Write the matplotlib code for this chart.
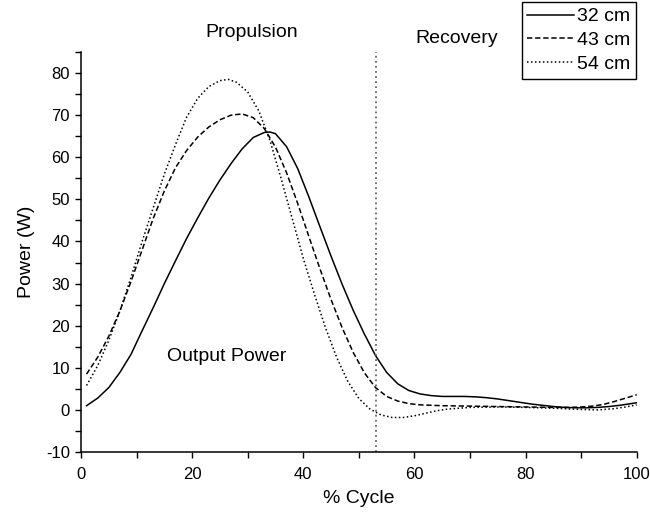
import matplotlib
matplotlib.use('Agg')
import matplotlib.pyplot as plt
from matplotlib.ticker import MultipleLocator

plt.rcParams['font.family'] = ['Liberation Sans', 'DejaVu Sans']
plt.rcParams['axes.unicode_minus'] = False

# power curves (% cycle, W)
x32 = [1, 3, 5, 7, 9, 11, 13, 15, 17, 19, 21, 23, 25, 27, 29, 31, 33, 34, 35, 37,
       39, 41, 43, 45, 47, 49, 51, 53, 55, 57, 59, 61, 63, 65, 67, 69, 71, 73, 75,
       77, 79, 81, 83, 85, 87, 89, 91, 93, 95, 97, 99, 100]
p32 = [1.0, 2.8, 5.3, 8.9, 13.2, 18.8, 24.3, 30.0, 35.4, 40.7, 45.6, 50.3, 54.6,
       58.5, 62.0, 64.7, 65.9, 66.0, 65.6, 62.5, 57.3, 50.6, 43.5, 36.5, 29.8,
       23.6, 18.0, 12.9, 8.9, 6.2, 4.6, 3.8, 3.4, 3.2, 3.2, 3.2, 3.1, 2.9, 2.6,
       2.2, 1.8, 1.4, 1.1, 0.8, 0.6, 0.5, 0.5, 0.6, 0.8, 1.1, 1.5, 1.7]

x43 = [1, 3, 5, 7, 9, 11, 13, 15, 17, 19, 21, 23, 25, 27, 29, 31, 33, 35, 37, 39,
       41, 43, 45, 47, 49, 51, 53, 55, 57, 59, 61, 65, 70, 75, 80, 85, 88, 90, 92,
       94, 96, 98, 100]
p43 = [8.5, 12.5, 17.5, 23.5, 30.5, 38.0, 45.5, 52.0, 57.5, 61.6, 64.8, 67.2,
       68.9, 70.0, 70.3, 69.4, 66.8, 62.4, 56.3, 49.0, 41.2, 33.5, 26.2, 19.5,
       13.6, 8.8, 5.3, 3.2, 2.1, 1.5, 1.2, 1.0, 0.9, 0.8, 0.7, 0.6, 0.6, 0.7, 0.9,
       1.3, 2.0, 2.8, 3.6]

x54 = [1, 3, 5, 7, 9, 11, 13, 15, 17, 19, 21, 23, 25, 26.5, 28, 30, 32, 34, 36,
       38, 40, 42, 44, 46, 48, 50, 52, 54, 56, 58, 60, 62, 64, 66, 70, 75, 80, 85,
       90, 93, 96, 98, 100]
p54 = [5.8, 10.5, 16.5, 23.5, 31.5, 40.0, 48.0, 56.0, 63.0, 69.5, 74.0, 76.8,
       78.2, 78.5, 77.8, 75.5, 71.0, 64.0, 55.0, 45.5, 36.0, 27.5, 19.5, 12.5,
       6.8, 2.7, 0.2, -1.2, -1.8, -1.8, -1.4, -0.8, -0.2, 0.2, 0.6, 0.7, 0.6,
       0.4, 0.1, 0.0, 0.3, 0.7, 1.2]

labels = ['32 cm', '43 cm', '54 cm']
split = 53  # propulsion / recovery boundary

fig = plt.figure(figsize=(6.5, 5.15), dpi=100)
ax = fig.add_axes([0.1246, 0.1223, 0.855, 0.7767])

ax.plot(x32, p32, color='k', lw=1.1, label=labels[0])
ax.plot(x43, p43, color='k', lw=1.1, ls=(0, (3.5, 1.8)), label=labels[1])
ax.plot(x54, p54, color='k', lw=1.1, ls=(0, (1, 1.6)), label=labels[2])
ax.axvline(split, color='0.4', lw=1.3, ls=(0, (1, 1.8)))

ax.set_xlim(0, 100)
ax.set_ylim(-10, 85)
ax.xaxis.set_major_locator(MultipleLocator(20))
ax.xaxis.set_minor_locator(MultipleLocator(10))
ax.yaxis.set_minor_locator(MultipleLocator(5))
ax.set_yticks(range(-10, 81, 10))
ax.tick_params(which='both', direction='out', length=4.5, width=1.0, labelsize=12, colors='k')
ax.tick_params(axis='x', pad=6)
ax.spines['top'].set_visible(False)
ax.spines['right'].set_visible(False)
ax.spines['left'].set_linewidth(1.1)
ax.spines['bottom'].set_linewidth(1.1)

ax.set_xlabel('% Cycle', fontsize=14, labelpad=6)
ax.set_ylabel('Power (W)', fontsize=14, labelpad=8)

ax.text(30.7, 89.6, 'Propulsion', fontsize=14, ha='center', va='center', clip_on=False)
ax.text(67.6, 88.2, 'Recovery', fontsize=14, ha='center', va='center', clip_on=False)
ax.text(26.3, 12.6, 'Output Power', fontsize=14, ha='center', va='center')

leg = fig.legend(loc='upper right', bbox_to_anchor=(636/650, 1 - 2/515), fontsize=14,
                 handlelength=2.4, handletextpad=0.15, labelspacing=0.31,
                 borderpad=0.3, borderaxespad=0, fancybox=False, framealpha=1)
leg.get_frame().set_edgecolor('k')
leg.get_frame().set_linewidth(1.0)

plt.savefig('out.png', dpi=100)
plt.close()
